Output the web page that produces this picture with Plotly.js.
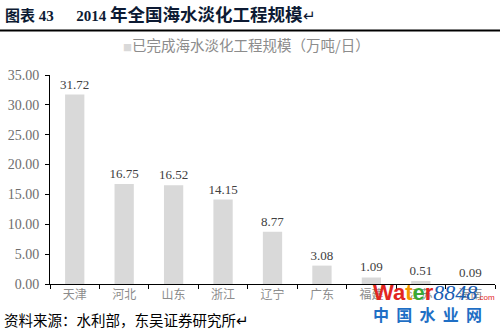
<!DOCTYPE html>
<html>
<head>
<meta charset="utf-8">
<script src="https://cdn.plot.ly/plotly-3.0.1.min.js"></script>
<style>html,body{margin:0;padding:0;background:#fff;}#chart{width:500px;height:331px;}</style>
</head>
<body>
<div id="chart"></div>
<script>
const categories = ["天津", "河北", "山东", "浙江", "辽宁", "广东", "福建", "江苏", "海南"];
const capacity = [31.72, 16.75, 16.52, 14.15, 8.77, 3.08, 1.09, 0.51, 0.09];
const seriesName = "已完成海水淡化工程规模（万吨/日）";
const yTicks = [0, 5, 10, 15, 20, 25, 30, 35];

const serif = "Liberation Serif, Noto Sans CJK SC, serif";
const cjk = "Noto Sans CJK SC, sans-serif";
const barColor = "#d9d9d9";

const trace = {
  type: "bar",
  x: categories,
  y: capacity,
  name: seriesName,
  marker: {color: barColor},
  width: 0.39,
  text: capacity.map(v => v.toFixed(2)),
  textposition: "outside",
  constraintext: "none",
  textfont: {family: serif, size: 13, color: "#404040"},
  cliponaxis: false,
  hoverinfo: "skip"
};

const layout = {
  width: 500, height: 331,
  margin: {l: 50, r: 5, t: 75, b: 47},
  paper_bgcolor: "#fff", plot_bgcolor: "#fff",
  showlegend: false,
  xaxis: {
    type: "category",
    showline: true, linecolor: "#000", linewidth: 1,
    ticks: "outside", tickson: "boundaries", ticklen: 4, tickcolor: "#000",
    tickfont: {family: cjk, size: 12, color: "#8c8c8c"},
    showgrid: false, zeroline: false, fixedrange: true
  },
  yaxis: {
    range: [0, 35],
    tickvals: yTicks,
    ticktext: yTicks.map(v => v.toFixed(2)),
    showline: true, linecolor: "#000", linewidth: 1,
    ticks: "outside", ticklen: 4, tickcolor: "#000",
    ticklabelstandoff: 3,
    tickfont: {family: serif, size: 14, color: "#6e6e6e"},
    showgrid: false, zeroline: false, fixedrange: true
  },
  shapes: [{
    type: "line", xref: "paper", yref: "paper",
    x0: -0.115, x1: 1.015, y0: 1.213, y1: 1.213,
    line: {color: "#000", width: 2}
  }],
  annotations: [
    {
      xref: "paper", yref: "paper", x: -0.106, y: 1.287, xanchor: "left", yanchor: "middle",
      text: "<b>图表 43      2014 <span style='font-size:17.5px'>年全国海水淡化工程规模</span></b>↵", showarrow: false,
      font: {family: serif, size: 15, color: "#0d1a33"}
    },
    {
      xref: "paper", yref: "paper", x: 0.441, y: 1.145, xanchor: "center", yanchor: "middle",
      text: "<span style='color:" + barColor + ";font-size:9px'>■</span>" + seriesName, showarrow: false,
      font: {family: cjk, size: 14.5, color: "#8c8c8c"}
    },
    {
      xref: "paper", yref: "paper", x: -0.108, y: -0.172, xanchor: "left", yanchor: "middle",
      text: "资料来源：水利部，东吴证券研究所↵", showarrow: false,
      font: {family: cjk, size: 14.5, color: "#000"}
    },
    {
      xref: "paper", yref: "paper", x: 0.722, y: -0.043, xanchor: "left", yanchor: "middle",
      text: "<b><span style='color:#e2261f'>Wa</span><span style='color:#f39800'>t</span><span style='color:#3aa935'>e</span><span style='color:#e2261f'>r</span></b><i><span style='color:#1a5fb4;font-family:Liberation Serif'>8848</span></i><span style='color:#e2261f;font-size:8px'>.com</span>",
      showarrow: false,
      font: {family: "Liberation Sans, Arial, sans-serif", size: 22, color: "#1a5fb4"}
    },
    {
      xref: "paper", yref: "paper", x: 0.722, y: -0.143, xanchor: "left", yanchor: "middle",
      text: "<b>中  国  水  业  网</b>", showarrow: false,
      font: {family: cjk, size: 16, color: "#1f6fc5"}
    }
  ]
};

Plotly.newPlot("chart", [trace], layout, {displayModeBar: false, staticPlot: true});
</script>
</body>
</html>
